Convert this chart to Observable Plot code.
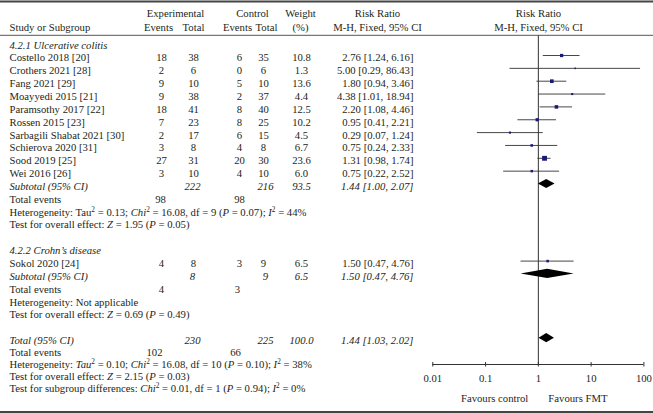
<!DOCTYPE html>
<html><head><meta charset="utf-8">
<script src="https://cdn.jsdelivr.net/npm/d3@7"></script>
<script src="https://cdn.jsdelivr.net/npm/@observablehq/plot@0.6"></script>
<style>body{margin:0;background:#fff}</style>
</head><body><div id="chart"></div>
<script>
// ---------- data ----------
const groupNames = ["4.2.1 Ulcerative colitis", "4.2.2 Crohn\u2019s disease"];
const studies = ["Costello 2018 [20]", "Crothers 2021 [28]", "Fang 2021 [29]", "Moayyedi 2015 [21]",
  "Paramsothy 2017 [22]", "Rossen 2015 [23]", "Sarbagili Shabat 2021 [30]", "Schierova 2020 [31]",
  "Sood 2019 [25]", "Wei 2016 [26]", "Sokol 2020 [24]"];
const studyGroup = [0,0,0,0,0,0,0,0,0,0,1];
const expEvents  = [18, 2, 9, 9, 18, 7, 2, 3, 27, 3, 4];
const expTotal   = [38, 6, 10, 38, 41, 23, 17, 8, 31, 10, 8];
const ctrlEvents = [6, 0, 5, 2, 8, 8, 6, 4, 20, 4, 3];
const ctrlTotal  = [35, 6, 10, 37, 40, 25, 15, 8, 30, 10, 9];
const weights    = [10.8, 1.3, 13.6, 4.4, 12.5, 10.2, 4.5, 6.7, 23.6, 6.0, 6.5];
const riskRatio  = [2.76, 5.00, 1.80, 4.38, 2.20, 0.95, 0.29, 0.75, 1.31, 0.75, 1.50];
const ciLower    = [1.24, 0.29, 0.94, 1.01, 1.08, 0.41, 0.07, 0.24, 0.98, 0.22, 0.47];
const ciUpper    = [6.16, 86.43, 3.46, 18.94, 4.46, 2.21, 1.24, 2.33, 1.74, 2.52, 4.76];

// pooled: [UC subtotal, CD subtotal, overall total]
const pooledLabels    = ["Subtotal (95% CI)", "Subtotal (95% CI)", "Total (95% CI)"];
const pooledRR        = [1.44, 1.50, 1.44];
const pooledLower     = [1.00, 0.47, 1.03];
const pooledUpper     = [2.07, 4.76, 2.02];
const pooledExpTotal  = [222, 8, 230];
const pooledCtrlTotal = [216, 9, 225];
const pooledWeight    = [93.5, 6.5, 100.0];
const totalEventsExp  = [98, 4, 102];
const totalEventsCtrl = [98, 3, 66];
const heterogeneity = [
  "Heterogeneity: Tau^2 = 0.13; *Chi*^2 = 16.08, df = 9 (*P* = 0.07); *I*^2 = 44%",
  "Heterogeneity: Not applicable",
  "Heterogeneity: *Tau*^2 = 0.10; *Chi*^2 = 16.08, df = 10 (*P* = 0.10); *I*^2 = 38%"];
const overallTests = [
  "Test for overall effect: *Z* = 1.95 (*P* = 0.05)",
  "Test for overall effect: *Z* = 0.69 (*P* = 0.49)",
  "Test for overall effect: *Z* = 2.15 (*P* = 0.03)"];
const subgroupTest = "Test for subgroup differences: *Chi*^2 = 0.01, df = 1 (*P* = 0.94); *I*^2 = 0%";
const tickValues = [0.01, 0.1, 1, 10, 100];
const tickLabels = ["0.01", "0.1", "1", "10", "100"];
const favourLabels = ["Favours control", "Favours FMT"];

// ---------- layout ----------
const W = 653, H = 413, R = 12.85, Y0 = 55;
const P = p => (p - Y0) / R;          // pixel -> row units
const tOff = 2.5 / R;                 // text centre below marker centre
const groupStart = [0, 16];
const groupHeadRow = [-1, 15];
const subtotalRow = [10, 17, 22];
const eventsRow = [11, 18, 22.95];
const hetRow = [12, 19, 23.88];
const testRow = [13, 20, 24.8];
const subgroupRow = 25.72;
const axisRow = P(364);
const ink = "#231f20";

const counters = [0, 0];
const studyTable = studies.map((s, i) => {
  const g = studyGroup[i];
  const row = groupStart[g] + counters[g]++;
  return {name: s, row, ee: expEvents[i], et: expTotal[i], ce: ctrlEvents[i], ct: ctrlTotal[i],
    w: weights[i], rr: riskRatio[i], lo: ciLower[i], hi: ciUpper[i]};
});
const fmtCI = (rr, lo, hi) => `${rr.toFixed(2)} [${lo.toFixed(2)}, ${hi.toFixed(2)}]`;
const pooledTable = pooledLabels.map((l, i) => ({label: l, row: subtotalRow[i], rr: pooledRR[i], lo: pooledLower[i],
  hi: pooledUpper[i], et: pooledExpTotal[i], ct: pooledCtrlTotal[i], w: pooledWeight[i],
  ee: totalEventsExp[i], ce: totalEventsCtrl[i], erow: eventsRow[i]}));
const diamondHalf = 4.6 / R;
const diamondPts = pooledTable.flatMap((d, i) => [
  {id: i, x: d.lo, y1: d.row, y2: d.row},
  {id: i, x: d.rr, y1: d.row - diamondHalf, y2: d.row + diamondHalf},
  {id: i, x: d.hi, y1: d.row, y2: d.row}]);
const eventsX = [[160, 239], [161, 237], [154, 235]];

function col(data, text, px, y, opts = {}) {
  return Plot.text(data, {text, y, frameAnchor: "left", dx: px, textAnchor: opts.anchor || "middle",
    fontStyle: opts.italic ? "italic" : "normal", fill: ink});
}
const tr = d => d.row + tOff;

const headers1 = [["Experimental", 175], ["Control", 252], ["Weight", 300], ["Risk Ratio", 377], ["Risk Ratio", 538]];
const headers2 = [["Events", 158], ["Total", 193], ["Events", 237], ["Total", 266], ["(%)", 300],
  ["M-H, Fixed, 95% CI", 377], ["M-H, Fixed, 95% CI", 538]];

const marks = [
  Plot.ruleY([P(1)], {stroke: "#444", strokeWidth: 2}),
  Plot.ruleY([P(34.8)], {stroke: "#555", strokeWidth: 1}),
  Plot.ruleY([P(411.8)], {stroke: "#444", strokeWidth: 2.5}),
  Plot.ruleX([1], {y1: P(35.3), y2: axisRow, stroke: "#333", strokeWidth: 1}),
  Plot.ruleY(studyTable, {y: "row", x1: "lo", x2: "hi", stroke: "#333", strokeWidth: 0.9}),
  Plot.dot(studyTable, {x: "rr", y: "row", r: d => Math.max(0.9, Math.sqrt(d.w / Math.PI)), symbol: "square", fill: "#1b1b72", stroke: null}),
  Plot.area(diamondPts, {x1: "x", y1: "y1", y2: "y2", z: "id", fill: "#000", curve: "linear"}),
  // axis
  Plot.ruleY([axisRow], {x1: tickValues[0], x2: tickValues[tickValues.length - 1], stroke: "#333"}),
  Plot.ruleX(tickValues, {x: d => d, y1: axisRow - 2 / R, y2: axisRow + 2.5 / R, stroke: "#333"}),
  Plot.text(tickValues, {x: d => d, y: axisRow, dy: 14, text: (d, i) => tickLabels[i], fill: ink}),
  Plot.text([favourLabels[0]], {x: 1, y: axisRow, dy: 34, dx: -10, textAnchor: "end", fill: ink}),
  Plot.text([favourLabels[1]], {x: 1, y: axisRow, dy: 34, dx: 10, textAnchor: "start", fill: ink}),
  // headers
  ...headers1.map(([t, x]) => col([0], [t], x, [P(13)])),
  ...headers2.map(([t, x]) => col([0], [t], x, [P(27)])),
  col([0], ["Study or Subgroup"], 9, [P(27)], {anchor: "start"}),
  // group headers
  col(groupNames, d => d, 9, (d, i) => groupHeadRow[i] + tOff, {anchor: "start", italic: true}),
  // studies
  col(studyTable, "name", 9, tr, {anchor: "start"}),
  col(studyTable, "ee", 161, tr),
  col(studyTable, "et", 193, tr),
  col(studyTable, "ce", 239, tr),
  col(studyTable, "ct", 263, tr),
  col(studyTable, d => d.w.toFixed(1), 301, tr),
  col(studyTable, d => fmtCI(d.rr, d.lo, d.hi), 413, tr, {anchor: "end"}),
  // pooled rows
  col(pooledTable, "label", 9, tr, {anchor: "start", italic: true}),
  col(pooledTable, "et", 192, tr, {italic: true}),
  col(pooledTable, "ct", 265, tr, {italic: true}),
  col(pooledTable, d => d.w.toFixed(1), 301, tr, {italic: true}),
  col(pooledTable, d => fmtCI(d.rr, d.lo, d.hi), 413, tr, {anchor: "end", italic: true}),
  // total events
  col(pooledTable, () => "Total events", 9, d => d.erow + tOff, {anchor: "start"}),
  ...pooledTable.map((d, i) => col([d], "ee", eventsX[i][0], d => d.erow + tOff)),
  ...pooledTable.map((d, i) => col([d], "ce", eventsX[i][1], d => d.erow + tOff)),
  // statistics
  col(heterogeneity, d => d, 9, (d, i) => hetRow[i] + tOff, {anchor: "start"}),
  col(overallTests, d => d, 9, (d, i) => testRow[i] + tOff, {anchor: "start"}),
  col([subgroupTest], d => d, 9, [subgroupRow + tOff], {anchor: "start"})
];

const svg = Plot.plot({
  width: W, height: H, margin: 0,
  style: {fontFamily: "'Liberation Serif', 'Times New Roman', serif", fontSize: "10.7px", background: "#fff", color: ink},
  x: {type: "log", domain: [0.01, 100], range: [432.3, 643.4], axis: null},
  y: {type: "linear", domain: [P(0), P(H)], range: [0, H], axis: null},
  r: {type: "identity"},
  marks
});

// rich text: *italic* and ^superscript
d3.select(svg).selectAll("text").each(function() {
  const t = this.textContent;
  if (!/[*^]/.test(t)) return;
  const sel = d3.select(this);
  sel.text(null);
  const re = /(\*[^*]+\*)|(\^\d)|([^*^]+)/g;
  let m, pending = 0;
  while ((m = re.exec(t))) {
    let ts;
    if (m[1]) ts = sel.append("tspan").attr("font-style", "italic").text(m[1].slice(1, -1));
    else if (m[2]) ts = sel.append("tspan").attr("font-size", "7.3px").text(m[2].slice(1));
    else ts = sel.append("tspan").text(m[3]);
    let dy = pending;
    if (m[2]) { dy += -4; pending = 4; } else pending = 0;
    if (dy) ts.attr("dy", dy);
  }
});
document.getElementById("chart").append(svg);
</script>
</body></html>
